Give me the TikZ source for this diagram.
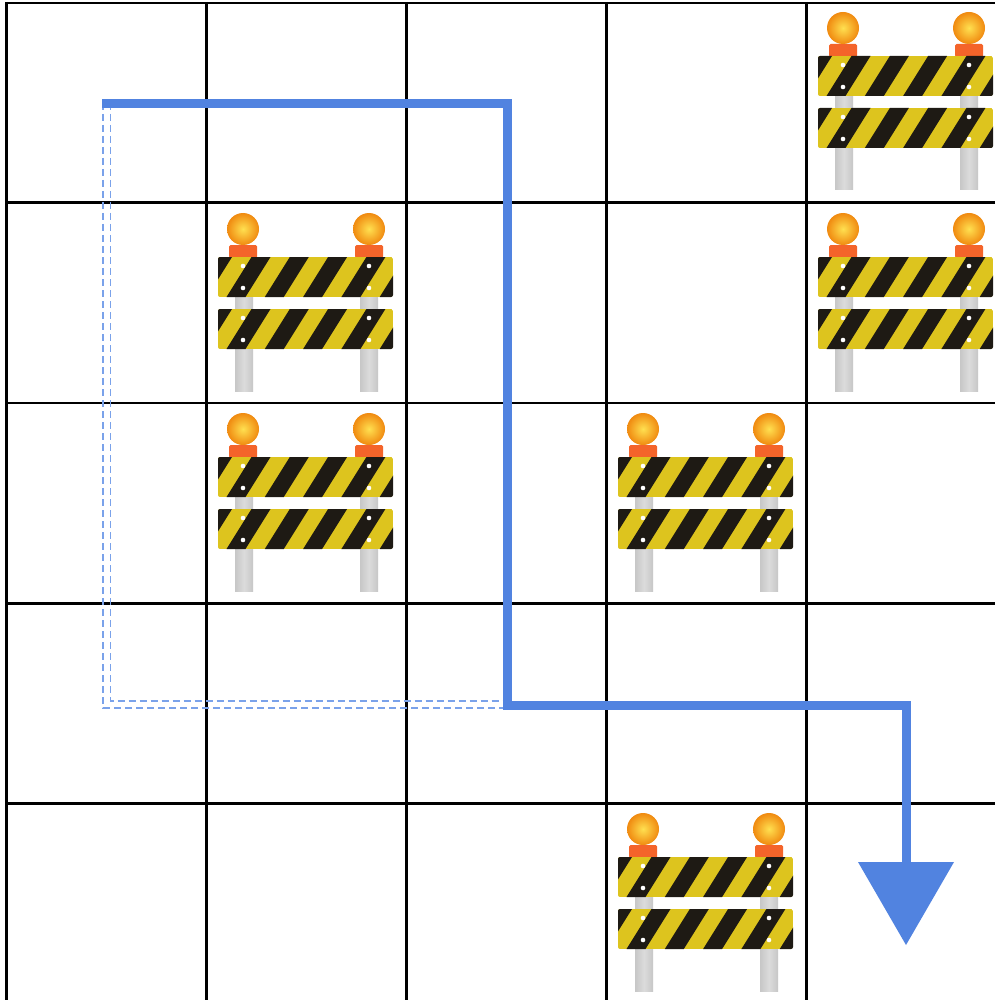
\documentclass[tikz,border=0pt]{standalone}
\definecolor{routeblue}{HTML}{5183E0}
\definecolor{ghostblue}{HTML}{7AA2EA}
\definecolor{stripeyellow}{HTML}{DDC41E}
\definecolor{stripeblack}{HTML}{1E1A14}
\definecolor{lampbase}{HTML}{F4642A}
\definecolor{lampcore}{HTML}{FFE050}
\definecolor{lamprim}{HTML}{F08A10}
\tikzset{
  gridline/.style={black,line width=2.6pt},
  route/.style={routeblue,line width=9pt,line join=miter},
  ghost/.style={ghostblue,line width=1.6pt,dash pattern=on 7pt off 4pt},
  routehead/.style={fill=routeblue,draw=none},
  postshape/.style={left color=black!22,right color=black!22,middle color=black!14,draw=none},
  lampshape/.style={inner color=lampcore,outer color=lamprim,draw=none},
  lampfoot/.style={fill=lampbase,draw=none,rounded corners=1.5},
  rivet/.style={fill=white,draw=none},
  barrier/.pic={
    \path[postshape] (30,92) rectangle (48,186);
    \path[postshape] (155,92) rectangle (173,186);
    \foreach \lx in {38,164}{
      \path[lampfoot] (\lx-14,40) rectangle (\lx+14,53);
      \path[lampshape] (\lx,24) circle (16);
    }
    \foreach \by in {52,104}{
      \begin{scope}
        \clip[rounded corners=2] (13,\by) rectangle (188,\by+40);
        \fill[stripeyellow] (13,\by) rectangle (188,\by+40);
        \foreach \sx in {8,46.5,84.8,123.1,161.4,199.7}{
          \fill[stripeblack] (\sx,\by) -- (\sx+19,\by) -- (\sx-6,\by+40) -- (\sx-25,\by+40) -- cycle;
        }
      \end{scope}
      \foreach \lx in {38,164}{
        \path[rivet] (\lx,\by+9) circle (2.3);
        \path[rivet] (\lx,\by+31) circle (2.3);
      }
    }
  }
}
\begin{document}
\begin{tikzpicture}[x=1pt,y=-1pt]
\useasboundingbox (0,0) rectangle (995,1000);
\fill[white] (0,0) rectangle (995,1000);
% grid
\foreach \gx in {6.5,206.5,406.5,606.5,806.5}
  \draw[gridline] (\gx,2) -- (\gx,1000);
\foreach \gy in {3,202.5,403,603.5,803.5}
  \draw[gridline] (5,\gy) -- (995,\gy);
% barriers
\foreach \ox/\oy in {805/4,805/205,205/205,205/405,605/405,605/805}
  \pic at (\ox,\oy) {barrier};
% alternative route
\coordinate (ghostTopOuter) at (103,103);
\coordinate (ghostTopInner) at (110.5,103);
\coordinate (ghostOuterCorner) at (103,708);
\coordinate (ghostInnerCorner) at (110.5,701);
\coordinate (ghostEndLow) at (505,708);
\coordinate (ghostEndHigh) at (505,701);
\draw[ghost] (ghostTopOuter) -- (ghostOuterCorner) -- (ghostEndLow);
\draw[ghost] (ghostTopInner) -- (ghostInnerCorner) -- (ghostEndHigh);
% route
\coordinate (routeStart) at (102,103.5);
\coordinate (routeTurnA) at (507,103.5);
\coordinate (routeTurnB) at (507,705);
\coordinate (routeTurnC) at (906,705);
\coordinate (routeEnd) at (906,864);
\draw[route] (routeStart) -- (routeTurnA) -- (routeTurnB) -- (routeTurnC) -- (routeEnd);
\coordinate (headL) at (858,862);
\coordinate (headR) at (954,862);
\coordinate (headTip) at (906,945);
\path[routehead] (headL) -- (headR) -- (headTip) -- cycle;
\end{tikzpicture}
\end{document}
